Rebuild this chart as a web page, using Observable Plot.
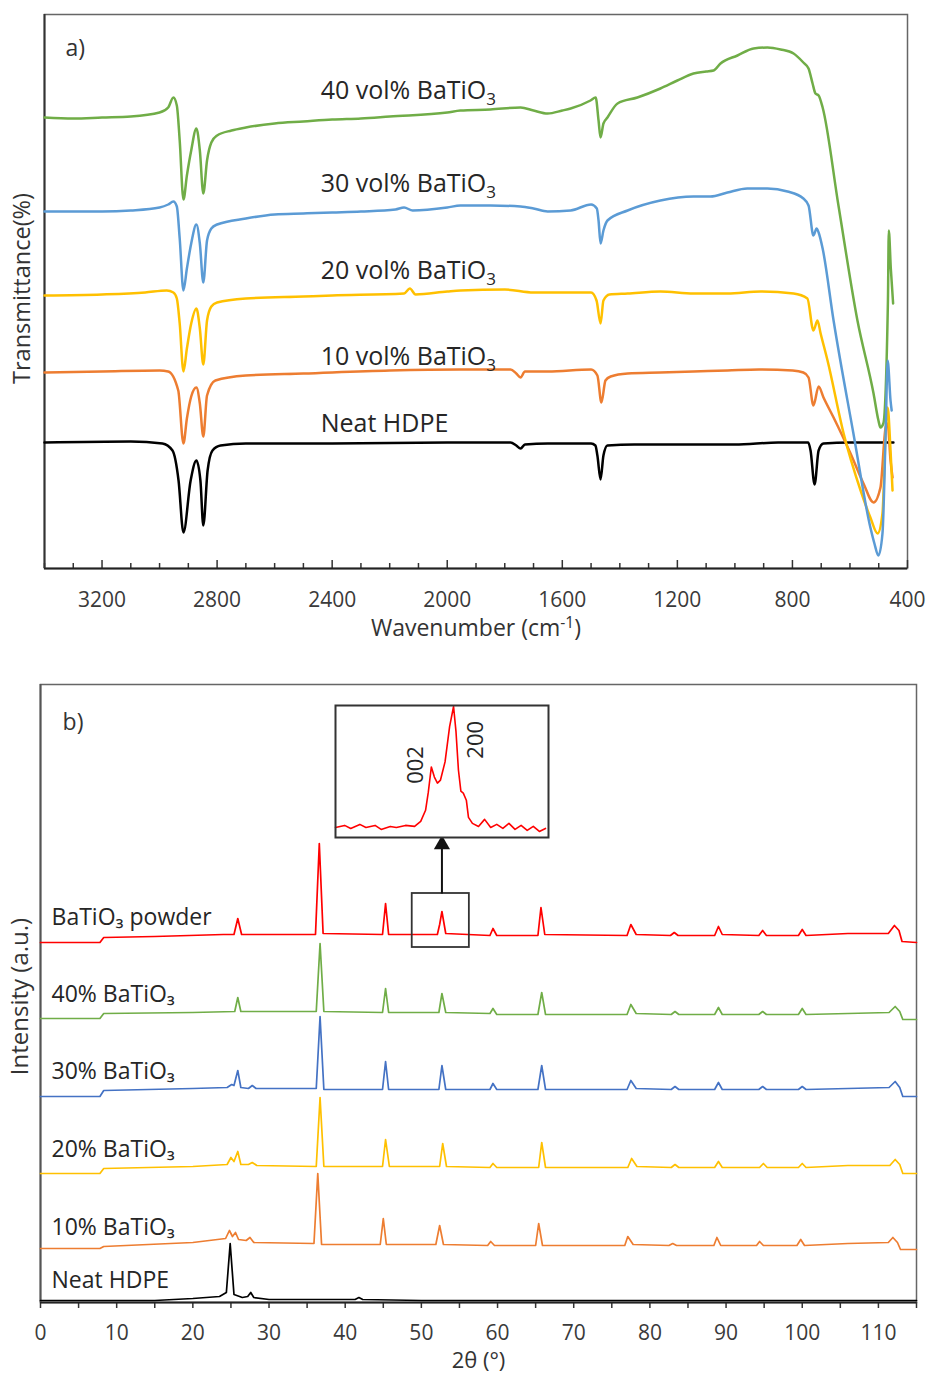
<!DOCTYPE html>
<html><head><meta charset="utf-8">
<script src="https://cdn.jsdelivr.net/npm/d3@7"></script>
<script src="https://cdn.jsdelivr.net/npm/@observablehq/plot@0.6"></script>
<style>
body{margin:0;background:#fff;}
#wrap{position:relative;width:929px;height:1373px;font-family:"Open Sans",sans-serif;}
#wrap svg{position:absolute;overflow:visible;}
</style></head><body><div id="wrap"></div>
<script>
// ---------- FTIR (panel a): [wavenumber cm-1, transmittance (a.u., offset)] ----------
const ftirSeries = ["Neat HDPE", "10 vol%", "20 vol%", "30 vol%", "40 vol%"];
const ftirLabels = ["Neat HDPE", "10 vol% BaTiO{_3}", "20 vol% BaTiO{_3}", "30 vol% BaTiO{_3}", "40 vol% BaTiO{_3}"];
const ftirColors = ["#000000", "#ED7D31", "#FFC000", "#5B9BD5", "#70AD47"];
const ftirTickLabels = [3200, 2800, 2400, 2000, 1600, 1200, 800, 400];

const ftirNeat = [[3400,126],[3100,127],[2990,125],[2955,118],[2934,88],[2917,36],[2892,88],[2872,108],[2858,88],[2848,43],[2833,98],[2816,118],[2788,123],[2700,125],[2400,125],[2000,126],[1780,126],[1760,123],[1745,120],[1730,124],[1650,125],[1500,125],[1485,123],[1478,113],[1467,89],[1457,113],[1443,123],[1350,124],[1200,124],[1000,124],[850,126],[745,126],[737,118],[723,84],[709,118],[692,125],[600,126],[449,126]];
const ftir10 = [[3400,196],[3200,197],[3000,198],[2970,197],[2935,178],[2917,125],[2905,150],[2890,172],[2872,181],[2860,165],[2848,132],[2835,173],[2806,188],[2700,193],[2500,195],[2200,198],[1954,199],[1780,199],[1760,195],[1745,191],[1730,197],[1650,197],[1500,199],[1478,193],[1464,166],[1450,188],[1432,192],[1373,195],[1259,196],[1144,197],[1026,198],[916,199],[799,198],[762,196],[744,191],[727,163],[709,182],[692,171],[657,151],[598,115],[553,85],[518,66],[494,81],[476,141],[469,145],[459,108],[452,91]];
const ftir20 = [[3400,273],[3200,274],[3050,276],[2975,278],[2952,276],[2940,270],[2930,245],[2917,197],[2905,220],[2890,245],[2872,260],[2860,240],[2848,204],[2835,248],[2820,262],[2800,266],[2700,270],[2500,272],[2400,273],[2150,275],[2130,280],[2110,274],[2000,277],[1954,278],[1800,279],[1700,276],[1600,276],[1500,276],[1481,268],[1467,245],[1457,268],[1436,274],[1373,275],[1259,277],[1144,275],[1026,275],[910,277],[796,275],[748,270],[727,238],[713,248],[702,235],[678,208],[622,135],[563,78],[529,51],[504,35],[487,55],[476,135],[469,161],[459,118],[452,78]];
const ftir30 = [[3400,357],[3300,357],[3200,357],[3100,358],[3000,361],[2970,364],[2952,367],[2940,362],[2930,330],[2917,278],[2905,300],[2890,325],[2872,344],[2860,325],[2848,286],[2835,328],[2820,340],[2800,344],[2700,350],[2600,354],[2500,355],[2400,356],[2300,357],[2180,359],[2150,361],[2120,358],[2000,361],[1954,363],[1850,363],[1745,362],[1700,360],[1651,357],[1571,358],[1500,364],[1480,360],[1474,348],[1467,325],[1457,338],[1443,348],[1373,358],[1259,368],[1144,372],[1085,372],[1026,376],[957,380],[887,380],[817,377],[762,370],[744,363],[727,333],[716,340],[709,336],[695,320],[657,248],[588,135],[529,41],[515,25],[501,13],[487,35],[476,135],[469,208],[459,168],[455,158]];
const ftir40 = [[3400,451],[3300,450],[3200,451],[3100,452],[3000,456],[2970,461],[2952,471],[2940,463],[2930,428],[2917,369],[2905,393],[2890,418],[2872,440],[2860,418],[2848,375],[2835,408],[2820,426],[2800,433],[2750,438],[2700,441],[2600,445],[2500,447],[2400,449],[2300,450],[2200,452],[2000,456],[1954,458],[1850,459],[1745,461],[1700,458],[1651,455],[1600,458],[1571,460],[1502,468],[1484,471],[1474,448],[1467,431],[1457,445],[1443,451],[1408,465],[1339,471],[1259,480],[1200,488],[1144,495],[1100,497],[1074,498],[1050,505],[991,513],[935,520],[887,521],[841,519],[796,515],[762,506],[744,500],[730,485],[720,475],[709,473],[695,461],[640,363],[574,248],[518,175],[501,148],[494,141],[484,145],[468,268],[465,338],[458,300],[450,265]];

// ---------- XRD (panel b): [2theta deg, intensity (a.u., offset)] ----------
const xrdSeries = ["Neat HDPE", "10% BaTiO₃", "20% BaTiO₃", "30% BaTiO₃", "40% BaTiO₃", "BaTiO₃ powder"];
const xrdColors = ["#000000", "#ED7D31", "#FFC000", "#4472C4", "#70AD47", "#FF0000"];
const xrdTickLabels = [0, 10, 20, 30, 40, 50, 60, 70, 80, 90, 100, 110];

const xrdNeat = [[0,2],[15,2],[20,4],[23.5,6],[24.4,10],[24.9,59],[25.4,8],[26.5,5],[27.2,6],[27.6,10],[28.0,5],[30,3],[41.3,3],[41.8,5],[42.3,3],[50,2],[115,2]];
const xrd10 = [[0,54],[7.8,54],[8.3,56],[20,60],[24.3,64],[24.8,72],[25.2,66],[25.6,70],[26.0,63],[27.0,62],[27.5,65],[28.0,60],[35.9,59],[36.4,129],[36.9,58],[44.6,58],[45.0,84],[45.4,58],[51.9,58],[52.4,77],[52.9,58],[58.7,57],[59.1,61],[59.6,57],[65.0,57],[65.4,79],[65.9,57],[76.7,57],[77.1,66],[77.8,58],[82.5,57],[83.0,59],[83.5,57],[88.4,57],[88.8,65],[89.3,57],[94.0,57],[94.4,61],[94.9,57],[99.3,57],[99.8,63],[100.3,57],[106,59],[111.3,60],[111.9,65],[112.5,60],[112.9,53],[115,53]];
const xrd20 = [[0,129],[7.8,129],[8.3,134],[20,136],[24.5,138],[25.0,145],[25.4,141],[25.9,151],[26.3,138],[27.3,138],[27.8,140],[28.4,137],[36.2,136],[36.7,205],[37.2,136],[44.9,136],[45.3,163],[45.8,136],[52.4,136],[52.8,159],[53.3,136],[59.0,135],[59.4,139],[59.9,135],[65.4,135],[65.8,160],[66.3,135],[77.1,135],[77.6,144],[78.3,136],[82.8,135],[83.3,138],[83.8,135],[88.5,135],[89.0,141],[89.5,135],[94.4,135],[94.9,139],[95.4,135],[99.5,135],[100.0,139],[100.5,135],[106,137],[111.5,137],[112.2,143],[112.8,138],[113.2,129],[115,129]];
const xrd30 = [[0,206],[7.8,206],[8.3,212],[20,214],[24.5,215],[25.1,218],[25.4,217],[25.9,232],[26.3,215],[27.3,214],[27.8,217],[28.3,214],[36.2,214],[36.7,286],[37.2,213],[44.9,213],[45.3,241],[45.7,213],[52.3,213],[52.7,237],[53.2,213],[59.0,213],[59.4,219],[59.9,213],[65.3,213],[65.8,237],[66.3,213],[77.0,213],[77.5,222],[78.2,214],[82.8,213],[83.3,216],[83.8,213],[88.5,213],[89.0,220],[89.5,213],[94.3,213],[94.8,216],[95.3,213],[99.5,213],[100.0,216],[100.5,213],[106,214],[111.4,215],[112.2,221],[112.8,215],[113.2,206],[115,206]];
const xrd40 = [[0,284],[7.8,284],[8.3,289],[20,290],[25.5,291],[25.9,305],[26.3,291],[36.2,291],[36.7,359],[37.2,291],[44.9,290],[45.3,314],[45.7,290],[52.3,290],[52.7,309],[53.2,290],[59.0,289],[59.4,294],[59.9,288],[65.3,288],[65.8,310],[66.3,288],[77.0,288],[77.5,298],[78.2,289],[82.8,288],[83.3,291],[83.8,288],[88.5,288],[89.0,295],[89.5,288],[94.3,288],[94.8,291],[95.3,288],[99.5,288],[100.0,294],[100.5,288],[106,289],[111.4,290],[112.2,296],[112.8,291],[113.2,283],[115,283]];
const xrdPowder = [[0,360],[7.8,360],[8.3,365],[15,366],[24,368],[25.4,368],[25.9,384],[26.4,368],[30,368],[36.1,368],[36.6,459],[37.1,369],[44.9,368],[45.3,399],[45.7,368],[52.1,368],[52.4,378],[52.7,391],[53.2,369],[59.0,367],[59.4,374],[59.9,367],[65.3,367],[65.7,395],[66.2,368],[77.0,367],[77.5,378],[78.2,368],[82.7,367],[83.2,370],[83.7,367],[88.5,367],[89.0,376],[89.5,368],[94.3,367],[94.8,372],[95.3,367],[99.5,367],[100.0,373],[100.5,367],[106,369],[111.3,369],[112.1,377],[112.7,372],[113.1,361],[115,360]];

// inset: BaTiO3 powder around the 002/200 doublet
const insetPowder = [[49.0,10],[49.3,12],[49.5,9],[49.8,13],[50.0,10],[50.3,12],[50.5,8],[50.8,11],[51.0,10],[51.3,12],[51.6,11],[51.8,16],[51.96,27],[52.05,45],[52.15,70],[52.25,60],[52.35,54],[52.45,57],[52.6,75],[52.75,110],[52.88,130],[52.96,105],[53.04,67],[53.12,46],[53.2,44],[53.3,37],[53.37,20],[53.5,14],[53.7,11],[53.9,18],[54.1,10],[54.3,13],[54.5,9],[54.7,14],[54.9,8],[55.1,12],[55.3,7],[55.5,11],[55.7,6],[55.9,9]];
const insetLabels = ["002", "200"];

// ---------- helpers ----------
function rich(svg) {
  d3.select(svg).selectAll("text").each(function () {
    const s = this.textContent;
    if (!/\{[_^]/.test(s)) return;
    const parts = s.split(/(\{[_^][^}]*\})/);
    const el = d3.select(this); el.text(null);
    for (const p of parts) {
      if (!p) continue;
      const m = p.match(/^\{([_^])(.*)\}$/);
      if (m) el.append("tspan").attr("font-size", "68%").attr("baseline-shift", m[1] === "_" ? "-6" : "8").text(m[2]);
      else el.append("tspan").text(p);
    }
  });
}
function rows(series, arrays, kx, ky) {
  const out = [];
  series.forEach((s, i) => arrays[i].forEach(([a, b]) => out.push({series: s, [kx]: a, [ky]: b})));
  return out;
}
const wrap = document.getElementById("wrap");
const FONT = "Open Sans";

// ---------- panel a ----------
const ftirRows = rows(ftirSeries, [ftirNeat, ftir10, ftir20, ftir30, ftir40], "w", "t");
const ftirLabelPos = [145, 212, 298, 385, 478];
const plotA = Plot.plot({
  width: 929, height: 655,
  marginLeft: 44, marginRight: 22, marginTop: 14, marginBottom: 87,
  x: {domain: [3400, 400], axis: null},
  y: {domain: [0, 554], axis: null},
  color: {domain: ftirSeries, range: ftirColors},
  style: {fontFamily: FONT, background: "transparent", overflow: "visible"},
  marks: [
    Plot.frame({stroke: "#666", strokeWidth: 1.5}),
    Plot.ruleX(d3.range(400, 3401, 100), {x: d => d, y1: 0, y2: d => (d % 400 === 0 ? 8 : 5), stroke: "#333", strokeWidth: 1.5}),
    Plot.ruleY([0], {stroke: "#222", strokeWidth: 2}),
    Plot.ruleX([3400], {stroke: "#333", strokeWidth: 2}),
    Plot.text(ftirTickLabels, {x: d => d, y: 0, dy: 32, text: d => String(d), fontSize: 21, fill: "#3a3a3a", lineAnchor: "middle"}),
    Plot.text(["Wavenumber (cm{^-1})"], {frameAnchor: "bottom", dy: 60, lineAnchor: "middle", fontSize: 23, fill: "#333"}),
    Plot.text(["Transmittance(%)"], {frameAnchor: "left", textAnchor: "middle", dx: -22, dy: -3, rotate: -90, fontSize: 23.5, fill: "#333"}),
    Plot.text(["a)"], {x: 3327, y: 520, textAnchor: "start", fontSize: 23, fill: "#333"}),
    Plot.line(ftirRows, {x: "w", y: "t", z: "series", stroke: "series", strokeWidth: 2.5, curve: "monotone-x", sort: {channel: "x"}}),
    Plot.text(ftirLabels, {x: 2440, y: (d, i) => ftirLabelPos[i], textAnchor: "start", fontSize: 25, fill: "#262626"})
  ]
});
rich(plotA);
plotA.style.left = "0px"; plotA.style.top = "0px";
wrap.appendChild(plotA);

// ---------- panel b ----------
const xrdRows = rows(xrdSeries, [xrdNeat, xrd10, xrd20, xrd30, xrd40, xrdPowder], "t2", "i");
const xrdLabelPos = [22, 75, 153, 231, 308, 385];
const plotB = Plot.plot({
  width: 929, height: 718,
  marginLeft: 40, marginRight: 13, marginTop: 29, marginBottom: 71,
  x: {domain: [0, 115], axis: null},
  y: {domain: [0, 618], axis: null},
  color: {domain: xrdSeries, range: xrdColors},
  style: {fontFamily: FONT, background: "transparent", overflow: "visible"},
  marks: [
    Plot.frame({stroke: "#666", strokeWidth: 1.5}),
    Plot.ruleX(d3.range(0, 116, 5), {x: d => d, y1: 0, y2: -6, stroke: "#333", strokeWidth: 1.5}),
    Plot.ruleY([0], {stroke: "#222", strokeWidth: 2}),
    Plot.ruleX([0], {stroke: "#555", strokeWidth: 2}),
    Plot.text(xrdTickLabels, {x: d => d, y: 0, dy: 31, text: d => String(d), fontSize: 21, fill: "#3a3a3a", lineAnchor: "middle"}),
    Plot.text(["2θ (°)"], {frameAnchor: "bottom", dy: 58, lineAnchor: "middle", fontSize: 22, fill: "#333"}),
    Plot.text(["Intensity (a.u.)"], {frameAnchor: "left", textAnchor: "middle", dx: -20, dy: 3, rotate: -90, fontSize: 24, fill: "#333"}),
    Plot.text(["b)"], {x: 2.9, y: 580, textAnchor: "start", fontSize: 23, fill: "#333"}),
    Plot.line(xrdRows, {x: "t2", y: "i", z: "series", stroke: "series", strokeWidth: 1.7}),
    Plot.text(xrdSeries, {x: 1.45, y: (d, i) => xrdLabelPos[i], textAnchor: "start", fontSize: 23, fill: "#262626"}),
    // zoom box and arrow pointing to the inset
    Plot.rect([0], {x1: () => 48.8, x2: () => 56.3, y1: () => 355, y2: () => 409, fill: "none", stroke: "#333", strokeWidth: 1.8}),
    Plot.link([0], {x1: () => 52.7, x2: () => 52.7, y1: () => 409, y2: () => 455, stroke: "#111", strokeWidth: 2}),
    Plot.dot([0], {x: () => 52.7, y: () => 458, symbol: "triangle", r: 6, fill: "#111", stroke: "none"})
  ]
});
plotB.style.left = "0px"; plotB.style.top = "655px";
wrap.appendChild(plotB);

// ---------- inset ----------
const insetRows = insetPowder.map(([a, b]) => ({t2: a, i: b}));
const plotC = Plot.plot({
  width: 213, height: 132,
  marginLeft: 0, marginRight: 0, marginTop: 0, marginBottom: 0,
  x: {domain: [49, 56], axis: null},
  y: {domain: [0, 131], axis: null},
  style: {fontFamily: FONT, background: "white", overflow: "visible"},
  marks: [
    Plot.line(insetRows, {x: "t2", y: "i", stroke: "#FF0000", strokeWidth: 1.6}),
    Plot.text(insetLabels, {x: (d, i) => [51.63, 53.6][i], y: (d, i) => [72, 97][i], rotate: -90, fontSize: 22, fill: "#262626"}),
    Plot.frame({stroke: "#333", strokeWidth: 2})
  ]
});
plotC.style.left = "335px"; plotC.style.top = "705px";
wrap.appendChild(plotC);
</script>
</body></html>
